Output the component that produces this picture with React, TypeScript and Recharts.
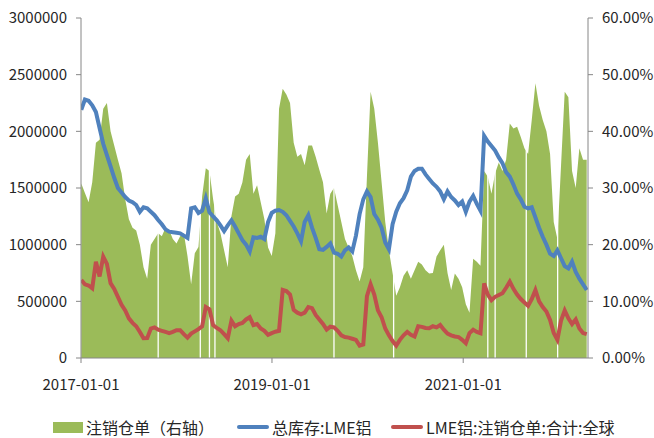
import { Area, ComposedChart, Legend, Line, ReferenceLine, XAxis, YAxis } from 'recharts';

const DAY = 86400000;
const firstDate = Date.UTC(2017, 0, 2);
const stepDays = 14;

// 总库存:LME铝, thousand tonnes, one reading every two weeks
const totalStock = [
  2190, 2280, 2270, 2230, 2170, 2030, 1890, 1790, 1690, 1590, 1500, 1460, 1420, 1390, 1375, 1350,
  1290, 1330, 1320, 1290, 1260, 1218, 1180, 1135, 1115, 1110, 1105, 1100, 1080, 1060, 1320, 1330,
  1280, 1300, 1410, 1285, 1250, 1215, 1170, 1120, 1170, 1215, 1160, 1100, 1040, 1000, 940, 1065,
  1060, 1070, 1050, 1200, 1280, 1300, 1306, 1290, 1260, 1210, 1160, 1100, 1030, 1200, 1260, 1150,
  1060, 960, 955, 980, 1010, 930, 920, 895, 950, 975, 940, 1080, 1270, 1400, 1470, 1420,
  1270, 1220, 1150, 1020, 960, 1180, 1290, 1365, 1410, 1480, 1600, 1650, 1670, 1670, 1620, 1580,
  1540, 1510, 1470, 1400, 1470, 1420, 1390, 1350, 1380, 1290, 1380, 1430, 1360, 1300, 1960, 1910,
  1870, 1830, 1770, 1720, 1640, 1600, 1530, 1450, 1400, 1335, 1320, 1330, 1240, 1150, 1070, 1000,
  920, 900, 950, 880, 810, 790, 850, 760, 700, 650, 600,
];

// LME铝:注销仓单:合计:全球, thousand tonnes
const cancelledWarrants = [
  688, 650, 640, 615, 850, 720, 894, 830, 660, 610, 540, 470, 420, 350, 310, 280,
  230, 174, 175, 260, 270, 250, 240, 230, 220, 230, 245, 245, 210, 180, 215, 235,
  255, 280, 450, 430, 290, 265, 245, 210, 175, 330, 280, 300, 310, 340, 360, 290,
  300, 260, 240, 205, 220, 232, 240, 600, 590, 560, 424, 400, 385, 400, 450, 440,
  380, 340, 300, 250, 276, 270, 240, 200, 185, 180, 170, 160, 110, 120, 545, 650,
  560, 420, 360, 260, 200, 150, 110, 160, 200, 230, 205, 190, 280, 275, 265, 262,
  280, 270, 291, 250, 215, 200, 190, 185, 160, 130, 220, 250, 230, 218, 659, 560,
  510, 540, 556, 571, 620, 674, 610, 560, 520, 490, 460, 520, 600, 500, 450, 410,
  335, 220, 160, 330, 420, 350, 300, 340, 260, 220, 210,
];

// 注销仓单（右轴）, percent
const cancelledRatio = [
  30.8, 29.1, 27.5, 31, 38, 38.5, 44, 45, 40, 37.5, 35, 32.6, 28, 24.5, 23, 22.5,
  20, 16, 14, 20, 21, 22, 21.5, 23, 22.6, 21, 20.2, 21.5, 22, 18, 13, 18.5,
  19.6, 28.5, 33.5, 33, 28, 24, 22, 19, 16, 25, 28.5, 29, 31, 35, 36, 29,
  30.5, 27.5, 24.5, 19.5, 18, 22, 44, 47.5, 46.5, 45, 38, 35.5, 36, 34, 37.5, 37.5,
  35.5, 33.2, 31, 25.5, 29, 30, 27, 24, 21, 19.5, 18, 15.5, 13.5, 16, 32, 47,
  44, 38, 31, 24, 19, 15, 11, 12.5, 14.5, 15.5, 14, 15.5, 17, 16.5, 15.5, 14.9,
  15, 17.9, 19, 20, 15, 12, 14.9, 14, 12.5, 9.5, 8, 17.5, 17, 16.3, 33, 32,
  29, 32.6, 34.5, 33, 35, 41.4, 40.5, 40.8, 39, 37, 36, 42, 48.5, 44.5, 42, 40,
  36, 24, 21, 34, 47, 46, 33, 30, 37, 35, 35,
];

// days with no ratio reading (holidays)
const gapDates = [
  '2017-10-23', '2018-04-02', '2018-05-07', '2018-05-28', '2019-08-26',
  '2020-04-10', '2021-04-05', '2021-05-03', '2021-08-30', '2021-12-28',
];

const xTicks = ['2017-01-01', '2019-01-01', '2021-01-01'];
const leftTicks = [0, 500000, 1000000, 1500000, 2000000, 2500000, 3000000];
const rightTicks = [0, 10, 20, 30, 40, 50, 60];

const toTime = (s: string) => Date.parse(s + 'T00:00:00Z');
const fmtDate = (t: number) => new Date(t).toISOString().slice(0, 10);

const data = totalStock.map((v, i) => ({
  t: firstDate + i * stepDays * DAY,
  stock: v * 1000,
  cancelled: cancelledWarrants[i] * 1000,
  ratio: cancelledRatio[i],
}));

const GREEN = '#9BBB59';
const BLUE = '#4F81BD';
const RED = '#C0504D';
const AXIS = '#868686';
const TEXT = '#262626';
const FONT = '"Noto Sans CJK SC", "Noto Sans", sans-serif';

const tickStyle = { fill: TEXT, fontSize: 15, fontFamily: FONT };

function ChartLegend() {
  const items = [
    { label: '注销仓单（右轴）', color: GREEN, kind: 'box', left: 53 },
    { label: '总库存:LME铝', color: BLUE, kind: 'line', left: 237 },
    { label: 'LME铝:注销仓单:合计:全球', color: RED, kind: 'line', left: 391 },
  ];
  return (
    <div style={{ position: 'relative', height: 36, width: 654, fontFamily: FONT, fontSize: 16, color: TEXT }}>
      {items.map((it) => (
        <div key={it.label} style={{ position: 'absolute', left: it.left, top: 13, display: 'flex', alignItems: 'center', height: 24 }}>
          {it.kind === 'box' ? (
            <span style={{ display: 'inline-block', width: 30, height: 11, background: it.color }} />
          ) : (
            <span style={{ display: 'inline-block', width: 32, height: 4, borderRadius: 2, background: it.color }} />
          )}
          <span style={{ marginLeft: 3, whiteSpace: 'nowrap' }}>{it.label}</span>
        </div>
      ))}
    </div>
  );
}

export default function App() {
  return (
    <div style={{ position: 'absolute', left: 0, top: 0, width: 654, height: 438, background: '#fff' }}>
      <ComposedChart width={654} height={438} data={data} margin={{ top: 18, right: 0, bottom: 0, left: 0 }}>
        <XAxis
          dataKey="t"
          type="number"
          scale="time"
          domain={[toTime('2017-01-01'), toTime('2022-04-23')]}
          ticks={xTicks.map(toTime)}
          tickFormatter={fmtDate}
          tick={tickStyle}
          stroke={AXIS}
          tickSize={5}
          tickMargin={16}
          height={44}
          allowDataOverflow
        />
        <YAxis
          yAxisId="left"
          domain={[0, 3000000]}
          ticks={leftTicks}
          interval={0}
          tick={tickStyle}
          stroke={AXIS}
          tickSize={5}
          tickMargin={9}
          width={81}
        />
        <YAxis
          yAxisId="right"
          orientation="right"
          domain={[0, 60]}
          ticks={rightTicks}
          interval={0}
          tickFormatter={(v: number) => v.toFixed(2) + '%'}
          tick={tickStyle}
          stroke={AXIS}
          tickSize={5}
          tickMargin={9}
          width={66}
        />
        <Area
          yAxisId="right"
          dataKey="ratio"
          type="linear"
          fill={GREEN}
          fillOpacity={1}
          stroke="none"
          isAnimationActive={false}
        />
        {gapDates.map((d) => (
          <ReferenceLine key={d} yAxisId="right" x={toTime(d)} stroke="#fff" strokeWidth={1.3} />
        ))}
        <Line
          yAxisId="left"
          dataKey="stock"
          type="linear"
          stroke={BLUE}
          strokeWidth={4}
          dot={false}
          isAnimationActive={false}
        />
        <Line
          yAxisId="left"
          dataKey="cancelled"
          type="linear"
          stroke={RED}
          strokeWidth={4}
          dot={false}
          isAnimationActive={false}
        />
        <Legend verticalAlign="bottom" height={36} content={() => <ChartLegend />} />
      </ComposedChart>
    </div>
  );
}
